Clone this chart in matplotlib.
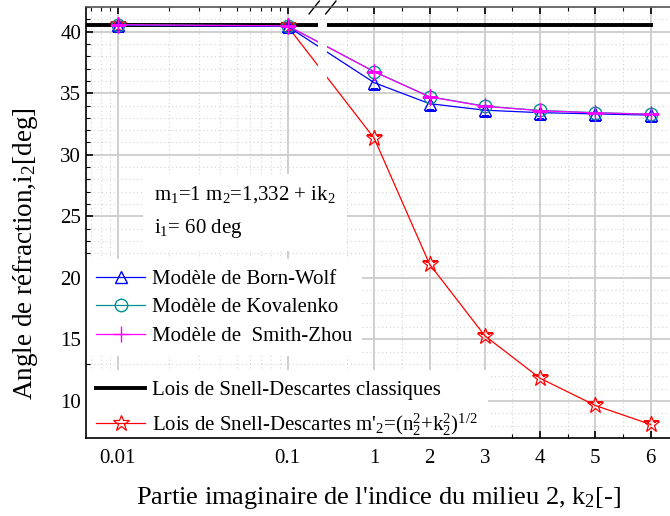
import numpy as np
import matplotlib
matplotlib.use("Agg")
import matplotlib.pyplot as plt
from matplotlib.path import Path
from matplotlib.ticker import FixedLocator, FixedFormatter, NullFormatter, MultipleLocator

plt.rcParams.update({
    "font.family": "Liberation Serif",
    "mathtext.fontset": "custom",
    "mathtext.rm": "Liberation Serif",
    "mathtext.it": "Liberation Serif:italic",
    "mathtext.bf": "Liberation Serif:bold",
    "font.size": 15,
})

# ── Data ────────────────────────────────────────────────────────────────────
k2 = [0.01, 0.1, 1, 2, 3, 4, 5, 6]
i2_born_wolf = [40.52, 40.42, 35.85, 34.15, 33.62, 33.42, 33.32, 33.22]
i2_kovalenko = [40.56, 40.47, 36.76, 34.72, 33.95, 33.60, 33.42, 33.30]
i2_smith_zhou = [40.56, 40.47, 36.74, 34.70, 33.93, 33.58, 33.40, 33.29]
i2_snell_module = [40.56, 40.42, 31.33, 21.12, 15.30, 11.85, 9.64, 8.10]
k2_classique = [0.0065, 6]
i2_classique = [40.56, 40.56]

x_major = [0.01, 0.1, 1, 2, 3, 4, 5, 6]
x_major_labels = ["0.01", "0.1", "1", "2", "3", "4", "5", "6"]
x_minor = [0.007, 0.008, 0.009, 0.02, 0.03, 0.04, 0.05, 0.06, 0.07, 0.08, 0.09,
           0.5, 1.5, 2.5, 3.5, 4.5, 5.5]

# ── Broken x scale: log below the break, linear above ───────────────────────
BREAK_K = 0.15
PX_DECADE = 170.0
SLOPE = 55.3 / PX_DECADE
U_ONE = -1 + 86.6 / PX_DECADE
U_LEFT = np.log10(BREAK_K)
U_RIGHT = U_ONE + (BREAK_K - 1) * SLOPE


def forward(x):
    x = np.asarray(x, dtype=float)
    left = np.log10(np.maximum(x, 1e-300))
    right = U_ONE + (x - 1) * SLOPE
    return np.where(x <= BREAK_K, left, right)


def inverse(u):
    u = np.asarray(u, dtype=float)
    left = 10 ** np.minimum(u, U_LEFT)
    right = 1 + (u - U_ONE) / SLOPE
    return np.where(u <= U_LEFT, left, np.where(u >= U_RIGHT, right, BREAK_K))


fig = plt.figure(figsize=(6.7, 5.16), dpi=100)
ax = fig.add_axes([86 / 670, 78 / 516, 584 / 670, 431 / 516])
ax.set_xscale("function", functions=(forward, inverse))
ax.set_xlim(0.0065, 6.35)
ax.set_ylim(7, 42)

ax.xaxis.set_major_locator(FixedLocator(x_major))
ax.xaxis.set_major_formatter(FixedFormatter(x_major_labels))
ax.xaxis.set_minor_locator(FixedLocator(x_minor))
ax.xaxis.set_minor_formatter(NullFormatter())
ax.yaxis.set_major_locator(MultipleLocator(5))
ax.yaxis.set_minor_locator(MultipleLocator(1))

ax.set_axisbelow(True)
ax.grid(which="major", color="#cccccc", lw=1.3, ls="-")
ax.grid(which="minor", color="#d4d4d4", lw=0.8, ls=(0, (1, 2.5)))

ax.tick_params(which="both", direction="in", top=True, right=False, labelsize=15)
ax.tick_params(which="major", length=5, width=1.2)
ax.tick_params(which="minor", length=3, width=0.8)
ax.tick_params(axis="x", pad=8)
ax.spines["right"].set_visible(False)
for s in ("left", "bottom", "top"):
    ax.spines[s].set_linewidth(1.2)
ax.spines["top"].set_color("#555555")

# clip path that leaves a gap at the axis break
to_frac = lambda u: (u - forward(0.0065)) / (forward(6.35) - forward(0.0065))
f_l, f_r = float(to_frac(U_LEFT)), float(to_frac(U_RIGHT))
rects = [(-0.1, -0.1), (f_l, -0.1), (f_l, 1.1), (-0.1, 1.1), (0, 0),
         (f_r, -0.1), (1.1, -0.1), (1.1, 1.1), (f_r, 1.1), (0, 0)]
codes = [Path.MOVETO, Path.LINETO, Path.LINETO, Path.LINETO, Path.CLOSEPOLY] * 2
gap_clip = Path(rects, codes)

lines = []
lines += ax.plot(k2_classique, i2_classique, color="black", lw=2.8,
                 label="Lois de Snell-Descartes classiques")
lines += ax.plot(k2, i2_snell_module, color="red", lw=0.9, marker="*", ms=12,
                 mfc="none", mec="red", mew=0.9,
                 label="Lois de Snell-Descartes m'$_2$=(n$_2^2$+k$_2^2$)$^{1/2}$")
lines += ax.plot(k2, i2_born_wolf, color="blue", lw=0.9, marker="^", ms=9,
                 mfc="none", mec="blue", mew=1.0, label="Modèle de Born-Wolf")
lines += ax.plot(k2, i2_kovalenko, color="#009090", lw=0.9, marker="o", ms=9,
                 mfc="none", mec="#009090", mew=1.0, label="Modèle de Kovalenko")
lines += ax.plot(k2, i2_smith_zhou, color="magenta", lw=0.9, marker="+", ms=11,
                 mew=1.0, label="Modèle de  Smith-Zhou")
for ln in lines:
    ln.set_clip_path(gap_clip, ax.transAxes)

# break symbols "//"
slash = Path([(-1, -0.5), (-0.2, 0.5), (0.2, -0.5), (1, 0.5)],
             [Path.MOVETO, Path.LINETO, Path.MOVETO, Path.LINETO])
for yb in (0, 1):
    ax.plot([(f_l + f_r) / 2], [yb], transform=ax.transAxes, marker=slash, ms=20,
            mec="black", mew=1.0, clip_on=False, ls="none")

ax.text(0.117, 0.525, "m$_1$=1 m$_2$=1,332 + ik$_2$\ni$_1$= 60 deg",
        transform=ax.transAxes, fontsize=15, va="center", ha="left", linespacing=1.75,
        bbox=dict(fc="white", ec="none", pad=8))

h = {ln.get_label(): ln for ln in lines}
leg_style = dict(loc="upper left", frameon=True, fancybox=False, edgecolor="none",
                 framealpha=1, fontsize=15, handlelength=2.35, handletextpad=0.3,
                 borderpad=0.5, borderaxespad=0)
leg1 = ax.legend([h["Modèle de Born-Wolf"], h["Modèle de Kovalenko"], h["Modèle de  Smith-Zhou"]],
                 ["Modèle de Born-Wolf", "Modèle de Kovalenko", "Modèle de  Smith-Zhou"],
                 bbox_to_anchor=(0.0, 0.415), labelspacing=0.42, **leg_style)
leg1.set_zorder(2.3)
ax.add_artist(leg1)
leg2 = ax.legend([h["Lois de Snell-Descartes classiques"], lines[1]],
                 ["Lois de Snell-Descartes classiques", lines[1].get_label()],
                 bbox_to_anchor=(0.0, 0.158), labelspacing=0.55, **leg_style)
leg2.set_zorder(2.3)

ax.set_xlabel("Partie imaginaire de l'indice du milieu 2, k$_2$[-]", fontsize=19, labelpad=12)
ax.set_ylabel("Angle de réfraction,i$_2$[deg]", fontsize=19.5)
ax.yaxis.set_label_coords(-0.078, 0.427)

fig.savefig("out.png", dpi=100)
